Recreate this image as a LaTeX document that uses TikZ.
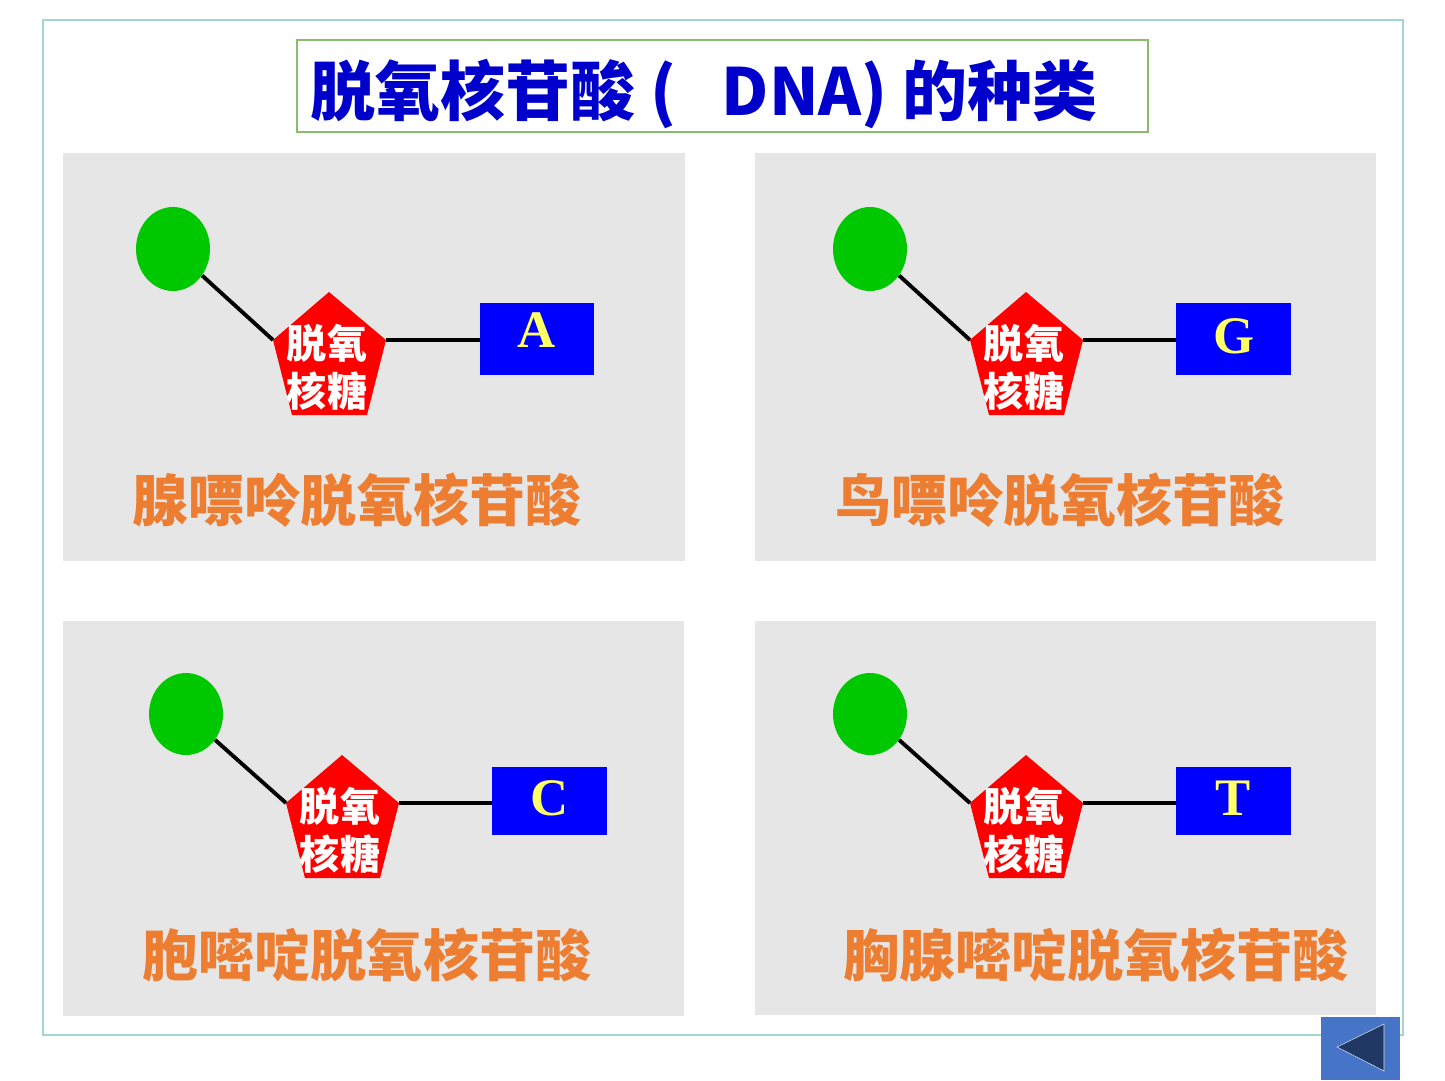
\documentclass[tikz,border=0pt]{standalone}
\usepackage{fontspec}
\newfontfamily\cjk{Noto Sans CJK SC}
\newfontfamily\romanbold{Liberation Serif}
\usetikzlibrary{shapes,positioning}
\definecolor{framecyan}{RGB}{160,214,212}
\definecolor{titlegreen}{RGB}{140,186,110}
\definecolor{titleblue}{RGB}{0,0,204}
\definecolor{panelgray}{RGB}{230,230,230}
\definecolor{phosgreen}{RGB}{0,200,0}
\definecolor{baseblue}{RGB}{0,0,255}
\definecolor{letteryellow}{RGB}{255,255,102}
\definecolor{nameorange}{RGB}{237,125,49}
\definecolor{btnblue}{RGB}{70,116,198}
\definecolor{btndark}{RGB}{32,56,100}
\tikzstyle{panel} = [fill=panelgray, draw=none]
\tikzstyle{phosphate} = [ellipse, fill=phosgreen, minimum width=1.48cm, minimum height=1.68cm, inner sep=0pt]
\tikzstyle{sugartext} = [text=white, font=\cjk\bfseries\fontsize{22.8}{27.3}\selectfont, align=center, inner sep=0pt]
\tikzstyle{basebox} = [rectangle, fill=baseblue, minimum height=1.44cm, text depth=0.12cm, text=letteryellow, font=\romanbold\bfseries\fontsize{30}{34}\selectfont]
\tikzstyle{nucname} = [text=nameorange, font=\cjk\bfseries\fontsize{31.9}{36}\selectfont]
\tikzstyle{bond} = [line width=2.2pt, black]
% pentagon: name, top x, top y
\newcommand{\sugarpent}[3]{%
	\fill[red] (#2,#3) -- ++(-56,48) coordinate (#1l) -- ++(19,75) -- ++(75,0) -- ++(19,-75) coordinate (#1r) -- cycle;
	\node (#1t) [sugartext] at (#2-2,#3+75) {脱氧\\核糖};
}

\begin{document}
\begin{tikzpicture}[x=0.02cm, y=-0.02cm]
	\useasboundingbox (0,0) rectangle (1445,1080);
	\fill[white] (0,0) rectangle (1445,1080);
	\draw[framecyan, line width=1.1pt] (43,20) rectangle (1403,1035);
	\node (titlebox) [draw=titlegreen, line width=1pt, fill=white, minimum width=17.02cm, minimum height=1.84cm] at (722.5,86) {};
	\node (title) [anchor=west, inner sep=0pt, text=titleblue, font=\cjk\bfseries\fontsize{37}{44}\selectfont] at (310,94) {脱氧核苷酸 (\hspace{0.7em}DNA) 的种类};

	% adenine
	\fill[panel] (63,153) rectangle (685,561);
	\node (p1) [phosphate] at (173,249) {};
	\sugarpent{s1}{329}{292}
	\node (b1) [basebox, minimum width=2.28cm, text depth=0.36cm] at (537,339) {A};
	\node (n1) [nucname] at (357,500) {腺嘌呤脱氧核苷酸};
	\draw [bond] (p1) -- (s1l);
	\draw [bond] (s1r) -- (s1r -| b1.west);

	% guanine
	\fill[panel] (755,153) rectangle (1376,561);
	\node (p2) [phosphate] at (870,249) {};
	\sugarpent{s2}{1026}{292}
	\node (b2) [basebox, minimum width=2.3cm] at (1233.5,339) {G};
	\node (n2) [nucname] at (1060,500) {鸟嘌呤脱氧核苷酸};
	\draw [bond] (p2) -- (s2l);
	\draw [bond] (s2r) -- (s2r -| b2.west);

	% cytosine
	\fill[panel] (63,621) rectangle (684,1016);
	\node (p3) [phosphate, minimum height=1.64cm] at (186,714) {};
	\sugarpent{s3}{342}{755}
	\node (b3) [basebox, minimum width=2.3cm, minimum height=1.36cm] at (549.5,801) {C};
	\node (n3) [nucname] at (367,955) {胞嘧啶脱氧核苷酸};
	\draw [bond] (p3) -- (s3l);
	\draw [bond] (s3r) -- (s3r -| b3.west);

	% thymine
	\fill[panel] (755,621) rectangle (1376,1015);
	\node (p4) [phosphate, minimum height=1.64cm] at (870,714) {};
	\sugarpent{s4}{1026}{755}
	\node (b4) [basebox, minimum width=2.3cm, minimum height=1.36cm] at (1233.5,801) {T};
	\node (n4) [nucname] at (1096,955) {胸腺嘧啶脱氧核苷酸};
	\draw [bond] (p4) -- (s4l);
	\draw [bond] (s4r) -- (s4r -| b4.west);

	% back button
	\fill[btnblue] (1321,1017) rectangle (1400,1080);
	\filldraw[fill=btndark, draw=white!80!btnblue, line width=0.3pt] (1337,1047) -- (1384,1024) -- (1384,1071) -- cycle;
\end{tikzpicture}
\end{document}
